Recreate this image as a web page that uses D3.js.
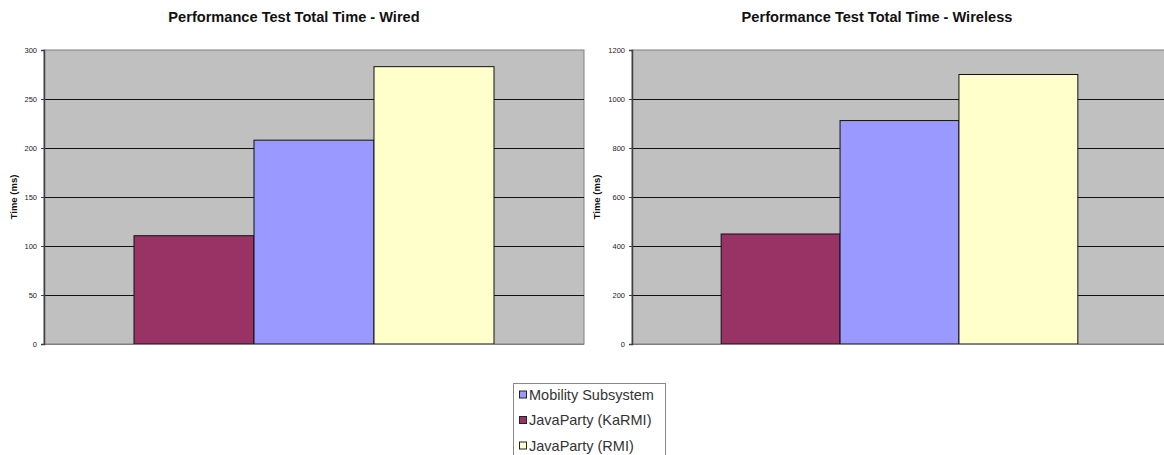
<!DOCTYPE html>
<html>
<head>
<meta charset="utf-8">
<script src="https://cdn.jsdelivr.net/npm/d3@7/dist/d3.min.js"></script>
<style>
  html, body { margin: 0; padding: 0; background: #fff; }
  svg { display: block; font-family: "Liberation Sans", Arial, sans-serif; }
</style>
</head>
<body>
<svg id="chart" width="1164" height="455"></svg>
<script>
// Series in bar order (left to right)
const seriesNames = ["JavaParty (KaRMI)", "Mobility Subsystem", "JavaParty (RMI)"];
const seriesColors = ["#993366", "#9999ff", "#ffffcc"];
// Legend lists the series in this order
const legendOrder = ["Mobility Subsystem", "JavaParty (KaRMI)", "JavaParty (RMI)"];

const categories = ["Total"];
const wiredValues = [110.5, 208, 283];
const wirelessValues = [449, 912, 1100];
const wiredTicks = [0, 50, 100, 150, 200, 250, 300];
const wirelessTicks = [0, 200, 400, 600, 800, 1000, 1200];

const svg = d3.select("#chart");
const color = d3.scaleOrdinal().domain(seriesNames).range(seriesColors);

function drawPanel(opts) {
  const { title, titleX, left, right, top, bottom, values, ticks, labelX } = opts;
  const g = svg.append("g");

  const y = d3.scaleLinear().domain([0, d3.max(ticks)]).range([bottom, top]);
  const x0 = d3.scaleBand().domain(categories).range([left, right])
    .paddingInner(0).paddingOuter(0.25);
  const x1 = d3.scaleBand().domain(seriesNames).range([0, x0.bandwidth()]).padding(0);

  // plot background
  g.append("rect")
    .attr("x", left).attr("y", top)
    .attr("width", right - left).attr("height", bottom - top)
    .attr("fill", "#c0c0c0")
    .attr("stroke", "#808080").attr("stroke-width", 1);

  // horizontal gridlines
  g.selectAll("line.grid")
    .data(ticks.filter(t => t > 0 && t < d3.max(ticks)))
    .join("line")
    .attr("class", "grid")
    .attr("x1", left).attr("x2", right)
    .attr("y1", d => Math.round(y(d)) + 0.5).attr("y2", d => Math.round(y(d)) + 0.5)
    .attr("stroke", "#111").attr("stroke-width", 1);

  // bars
  const data = seriesNames.map((s, i) => ({ series: s, value: values[i], cat: categories[0] }));
  g.selectAll("rect.bar")
    .data(data)
    .join("rect")
    .attr("class", "bar")
    .attr("x", d => x0(d.cat) + x1(d.series))
    .attr("y", d => y(d.value))
    .attr("width", x1.bandwidth())
    .attr("height", d => y(0) - y(d.value))
    .attr("fill", d => color(d.series))
    .attr("stroke", "#111").attr("stroke-width", 1);

  // bottom edge
  g.append("line")
    .attr("x1", left).attr("x2", right)
    .attr("y1", bottom + 0.5).attr("y2", bottom + 0.5)
    .attr("stroke", "#808080").attr("stroke-width", 1.2);

  // y axis
  const axis = d3.axisLeft(y).tickValues(ticks).tickFormat(d3.format("d"))
    .tickSize(3).tickSizeOuter(3).tickPadding(4);
  const ax = g.append("g").attr("transform", `translate(${left},0)`).call(axis);
  ax.select(".domain").attr("stroke", "#404040").attr("stroke-width", 1.5);
  ax.selectAll(".tick line").attr("stroke", "#404040");
  ax.selectAll(".tick text")
    .attr("fill", "#222")
    .style("font-size", "7.5px")
    .style("font-family", "Liberation Sans, Arial, sans-serif");

  // axis title
  g.append("text")
    .attr("transform", `translate(${labelX},${(top + bottom) / 2}) rotate(-90)`)
    .attr("text-anchor", "middle")
    .attr("dy", "0.35em")
    .style("font-size", "9.5px")
    .style("font-weight", "bold")
    .attr("fill", "#111")
    .text("Time (ms)");

  // chart title
  g.append("text")
    .attr("x", titleX).attr("y", 22)
    .attr("text-anchor", "middle")
    .style("font-size", "14.6px")
    .style("font-weight", "bold")
    .attr("fill", "#111")
    .text(title);
}

drawPanel({
  title: "Performance Test Total Time - Wired",
  titleX: 294,
  left: 44, right: 584, top: 50, bottom: 344,
  values: wiredValues, ticks: wiredTicks, labelX: 14
});

drawPanel({
  title: "Performance Test Total Time - Wireless",
  titleX: 877,
  left: 632, right: 1167, top: 50, bottom: 344,
  values: wirelessValues, ticks: wirelessTicks, labelX: 597
});

// legend (box runs past the bottom edge of the page)
const legend = svg.append("g");
legend.append("rect")
  .attr("x", 513.5).attr("y", 383.5)
  .attr("width", 152).attr("height", 80)
  .attr("fill", "#fff")
  .attr("stroke", "#888").attr("stroke-width", 1);

const rowY = d3.scalePoint().domain(legendOrder).range([394.5, 445.5]);
const items = legend.selectAll("g.item")
  .data(legendOrder)
  .join("g")
  .attr("class", "item")
  .attr("transform", d => `translate(0,${rowY(d)})`);
items.append("rect")
  .attr("x", 519.5).attr("y", -3.5)
  .attr("width", 7).attr("height", 7)
  .attr("fill", d => color(d))
  .attr("stroke", "#222").attr("stroke-width", 1);
items.append("text")
  .attr("x", 529).attr("y", 0)
  .attr("dy", "0.35em")
  .style("font-size", "14.5px")
  .attr("fill", "#333")
  .text(d => d);
</script>
</body>
</html>
